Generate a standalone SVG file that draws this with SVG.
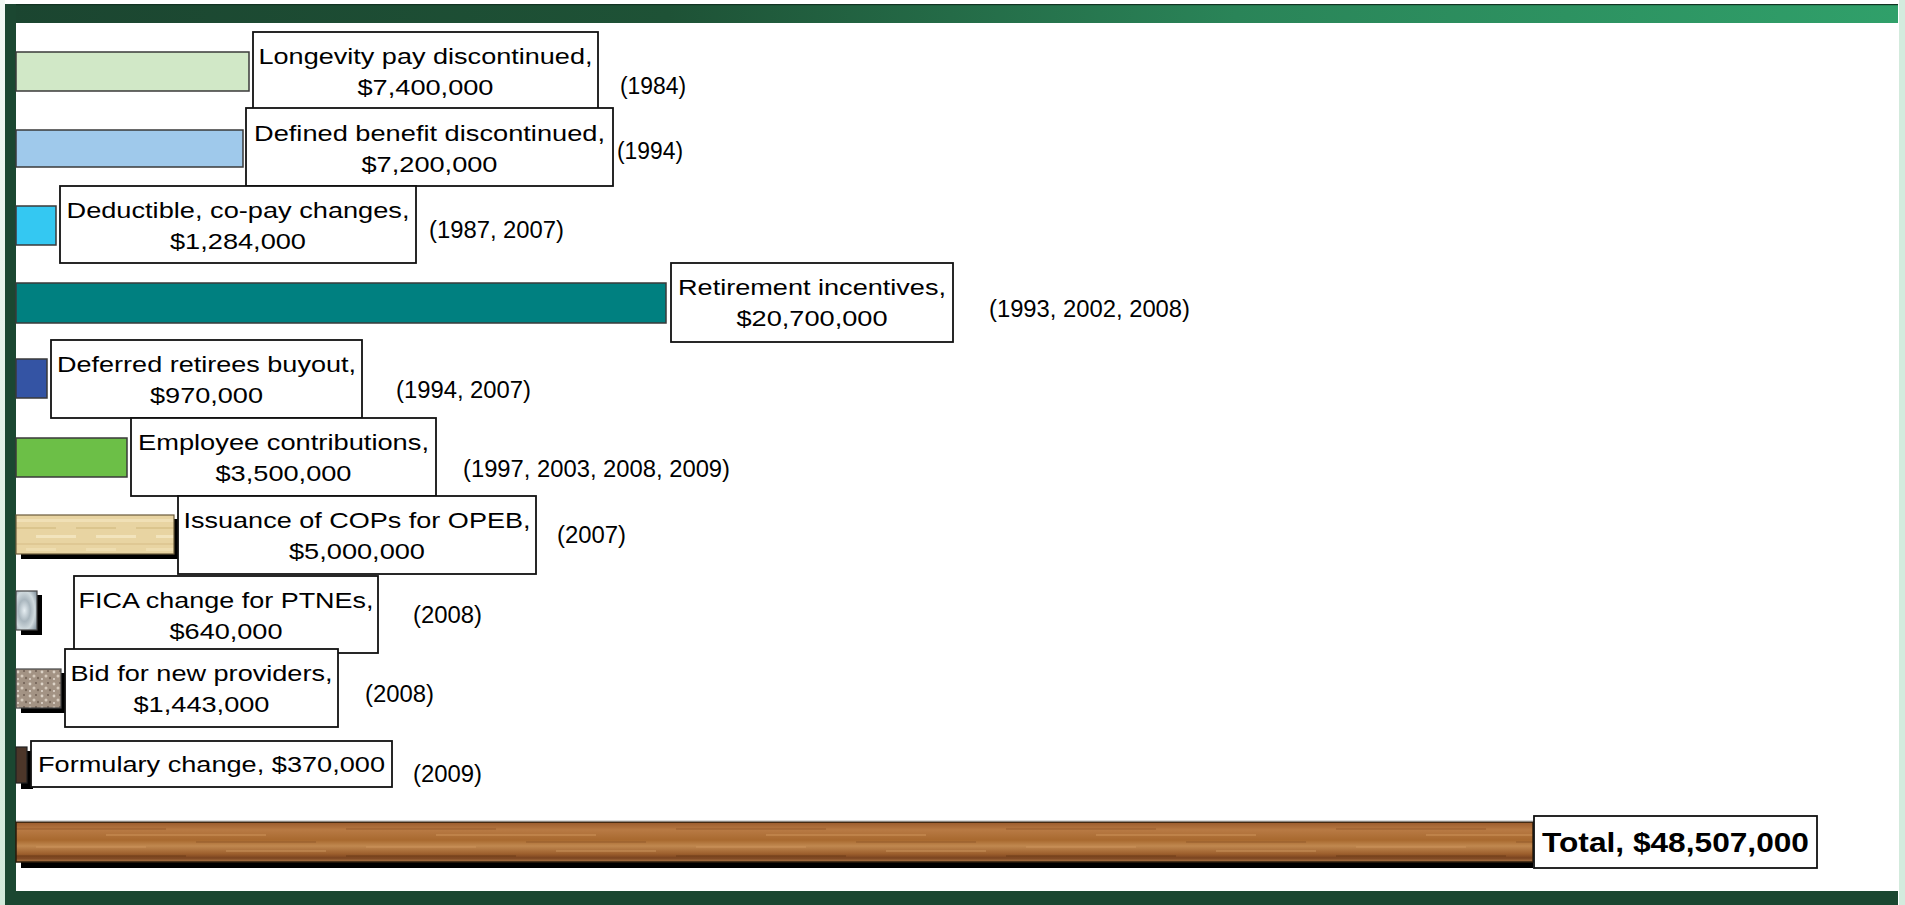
<svg xmlns="http://www.w3.org/2000/svg" width="1905" height="905" viewBox="0 0 1905 905">
<defs>
<style>
.bar{stroke:#3a3a3a;stroke-width:1.5}
.box{fill:#fff;stroke:#111;stroke-width:1.8}
.t{font-family:"Liberation Sans",Arial,sans-serif;font-size:22.5px;fill:#000;text-anchor:middle}
.y{font-family:"Liberation Sans",Arial,sans-serif;font-size:23px;fill:#000}
.tb{font-family:"Liberation Sans",Arial,sans-serif;font-size:27px;font-weight:bold;fill:#000;text-anchor:middle}
.sh{fill:#000}
</style>
<linearGradient id="topg" x1="0" x2="1" y1="0" y2="0">
<stop offset="0" stop-color="#1b4530"/>
<stop offset="0.35" stop-color="#1e5236"/>
<stop offset="0.65" stop-color="#2a8458"/>
<stop offset="1" stop-color="#30a06a"/>
</linearGradient>
<linearGradient id="leftbg" x1="0" x2="0" y1="0" y2="1">
<stop offset="0" stop-color="#f2f8f4"/>
<stop offset="1" stop-color="#d2e9da"/>
</linearGradient>
<pattern id="parch" patternUnits="userSpaceOnUse" x="16" y="515" width="60" height="39">
<rect width="60" height="39" fill="#e8d4a2"/>
<rect y="4" width="60" height="3" fill="#f3e4bc" opacity="0.8"/>
<rect y="12" width="40" height="2" fill="#d6bf86" opacity="0.7"/>
<rect x="20" y="20" width="40" height="3" fill="#f5e8c4" opacity="0.8"/>
<rect y="28" width="60" height="2" fill="#d8c08a" opacity="0.6"/>
<rect x="10" y="33" width="30" height="3" fill="#f0e0b4" opacity="0.8"/>
</pattern>
<radialGradient id="marble" cx="0.4" cy="0.5" r="0.7">
<stop offset="0" stop-color="#e6eef2"/>
<stop offset="0.4" stop-color="#a9b6be"/>
<stop offset="0.7" stop-color="#d0dade"/>
<stop offset="1" stop-color="#8d9ca6"/>
</radialGradient>
<pattern id="granite" patternUnits="userSpaceOnUse" x="16" y="669" width="12" height="12">
<rect width="12" height="12" fill="#a39384"/>
<circle cx="2" cy="3" r="1.4" fill="#dcd2c6"/>
<circle cx="8" cy="2" r="1" fill="#6e5e52"/>
<circle cx="6" cy="7" r="1.5" fill="#d6cabc"/>
<circle cx="10" cy="9" r="1.2" fill="#7a6a5c"/>
<circle cx="2" cy="10" r="1" fill="#e4dad0"/>
</pattern>
<linearGradient id="woodv" x1="0" x2="0" y1="0" y2="1">
<stop offset="0" stop-color="#9a5a2c"/>
<stop offset="0.2" stop-color="#b87a44"/>
<stop offset="0.45" stop-color="#a8692f"/>
<stop offset="0.6" stop-color="#c08850"/>
<stop offset="0.8" stop-color="#9c5e2c"/>
<stop offset="0.9" stop-color="#7a4420"/>
<stop offset="1" stop-color="#b07a48"/>
</linearGradient>
<pattern id="grain" patternUnits="userSpaceOnUse" x="16" y="822" width="330" height="40">
<rect x="0" y="6" width="150" height="2" fill="#7a4018" opacity="0.25"/>
<rect x="90" y="12" width="160" height="2" fill="#d8a068" opacity="0.35"/>
<rect x="180" y="19" width="120" height="2" fill="#6e3a16" opacity="0.22"/>
<rect x="20" y="24" width="110" height="2" fill="#d49a60" opacity="0.35"/>
<rect x="210" y="28" width="100" height="2" fill="#e0ac74" opacity="0.3"/>
<rect x="0" y="33" width="170" height="2" fill="#5e3010" opacity="0.35"/>
</pattern>
</defs>

<g id="frame">
<rect x="0" y="0" width="1905" height="905" fill="#ffffff"/>
<rect x="0" y="0" width="5" height="905" fill="url(#leftbg)"/>
<rect x="1899" y="0" width="6" height="905" fill="#d3ebdd"/>
<rect x="5" y="4" width="1893" height="19" fill="url(#topg)"/>
<rect x="5" y="4" width="1893" height="1.2" fill="#123322"/>
<rect x="5" y="4" width="11" height="901" fill="#1b4731"/>
<rect x="5" y="891" width="1893" height="14" fill="#1b4731"/>
</g>

<g id="row-longevity">
<rect class="bar" x="16" y="52" width="233" height="39" fill="#d1e8c7"/>
<rect class="box" x="253" y="32" width="345" height="78"/>
<text class="t" x="425.5" y="64" textLength="334" lengthAdjust="spacingAndGlyphs">Longevity pay discontinued,</text>
<text class="t" x="425.5" y="95" textLength="136" lengthAdjust="spacingAndGlyphs">$7,400,000</text>
<text class="y" x="620" y="94" textLength="66" lengthAdjust="spacingAndGlyphs">(1984)</text>
</g>

<g id="row-defined-benefit">
<rect class="bar" x="16" y="130" width="227" height="37" fill="#9fc9eb"/>
<rect class="box" x="246" y="108" width="367" height="78"/>
<text class="t" x="429.5" y="141" textLength="351" lengthAdjust="spacingAndGlyphs">Defined benefit discontinued,</text>
<text class="t" x="429.5" y="172" textLength="136" lengthAdjust="spacingAndGlyphs">$7,200,000</text>
<text class="y" x="617" y="159" textLength="66" lengthAdjust="spacingAndGlyphs">(1994)</text>
</g>

<g id="row-deductible">
<rect class="bar" x="16" y="206" width="40" height="39" fill="#34c8f2"/>
<rect class="box" x="60" y="186" width="356" height="77"/>
<text class="t" x="238" y="218" textLength="343" lengthAdjust="spacingAndGlyphs">Deductible, co-pay changes,</text>
<text class="t" x="238" y="249" textLength="136" lengthAdjust="spacingAndGlyphs">$1,284,000</text>
<text class="y" x="429" y="238" textLength="135" lengthAdjust="spacingAndGlyphs">(1987, 2007)</text>
</g>

<g id="row-retirement">
<rect class="bar" x="16" y="283" width="650" height="40" fill="#008080"/>
<rect class="box" x="671" y="263" width="282" height="79"/>
<text class="t" x="812" y="295" textLength="268" lengthAdjust="spacingAndGlyphs">Retirement incentives,</text>
<text class="t" x="812" y="326" textLength="151" lengthAdjust="spacingAndGlyphs">$20,700,000</text>
<text class="y" x="989" y="317" textLength="201" lengthAdjust="spacingAndGlyphs">(1993, 2002, 2008)</text>
</g>

<g id="row-deferred">
<rect class="bar" x="16" y="359" width="31" height="39" fill="#3454a4"/>
<rect class="box" x="51" y="340" width="311" height="78"/>
<text class="t" x="206.5" y="372" textLength="299" lengthAdjust="spacingAndGlyphs">Deferred retirees buyout,</text>
<text class="t" x="206.5" y="403" textLength="113" lengthAdjust="spacingAndGlyphs">$970,000</text>
<text class="y" x="396" y="398" textLength="135" lengthAdjust="spacingAndGlyphs">(1994, 2007)</text>
</g>

<g id="row-employee">
<rect class="bar" x="16" y="438" width="111" height="39" fill="#6cbf47"/>
<rect class="box" x="131" y="418" width="305" height="78"/>
<text class="t" x="283.5" y="450" textLength="291" lengthAdjust="spacingAndGlyphs">Employee contributions,</text>
<text class="t" x="283.5" y="481" textLength="136" lengthAdjust="spacingAndGlyphs">$3,500,000</text>
<text class="y" x="463" y="477" textLength="267" lengthAdjust="spacingAndGlyphs">(1997, 2003, 2008, 2009)</text>
</g>

<g id="row-cops">
<rect class="sh" x="21" y="519" width="159" height="40"/>
<rect x="16" y="515" width="158" height="39" fill="url(#parch)" stroke="#6a5a3a" stroke-width="1.2"/>
<rect class="box" x="178" y="496" width="358" height="78"/>
<text class="t" x="357" y="528" textLength="347" lengthAdjust="spacingAndGlyphs">Issuance of COPs for OPEB,</text>
<text class="t" x="357" y="559" textLength="136" lengthAdjust="spacingAndGlyphs">$5,000,000</text>
<text class="y" x="557" y="543" textLength="69" lengthAdjust="spacingAndGlyphs">(2007)</text>
</g>

<g id="row-fica">
<rect class="sh" x="21" y="595" width="21" height="40"/>
<rect x="16" y="591" width="21" height="39" fill="url(#marble)" stroke="#444" stroke-width="1.2"/>
<rect class="box" x="74" y="576" width="304" height="77"/>
<text class="t" x="226" y="608" textLength="295" lengthAdjust="spacingAndGlyphs">FICA change for PTNEs,</text>
<text class="t" x="226" y="639" textLength="113" lengthAdjust="spacingAndGlyphs">$640,000</text>
<text class="y" x="413" y="623" textLength="69" lengthAdjust="spacingAndGlyphs">(2008)</text>
</g>

<g id="row-bid">
<rect class="sh" x="21" y="673" width="46" height="40"/>
<rect x="16" y="669" width="45" height="39" fill="url(#granite)" stroke="#444" stroke-width="1.2"/>
<rect class="box" x="65" y="649" width="273" height="78"/>
<text class="t" x="201.5" y="681" textLength="262" lengthAdjust="spacingAndGlyphs">Bid for new providers,</text>
<text class="t" x="201.5" y="712" textLength="136" lengthAdjust="spacingAndGlyphs">$1,443,000</text>
<text class="y" x="365" y="702" textLength="69" lengthAdjust="spacingAndGlyphs">(2008)</text>
</g>

<g id="row-formulary">
<rect class="sh" x="21" y="751" width="12" height="38"/>
<rect x="16" y="747" width="11" height="36" fill="#4c3629" stroke="#222" stroke-width="1.2"/>
<rect class="box" x="31" y="741" width="361" height="46"/>
<text class="t" x="211.5" y="772" textLength="347" lengthAdjust="spacingAndGlyphs">Formulary change, $370,000</text>
<text class="y" x="413" y="782" textLength="69" lengthAdjust="spacingAndGlyphs">(2009)</text>
</g>

<g id="row-total">
<rect class="sh" x="21" y="826" width="1512" height="42"/>
<rect x="16" y="822" width="1517" height="40" fill="url(#woodv)"/>
<rect x="16" y="822" width="1517" height="40" fill="url(#grain)" stroke="#2a1a0a" stroke-width="1.5"/>
<rect x="16" y="820.5" width="1517" height="1" fill="#b8b8b8"/>
<rect class="box" x="1534" y="816" width="283" height="52"/>
<text class="tb" x="1675.5" y="852" textLength="267" lengthAdjust="spacingAndGlyphs">Total, $48,507,000</text>
</g>
</svg>
